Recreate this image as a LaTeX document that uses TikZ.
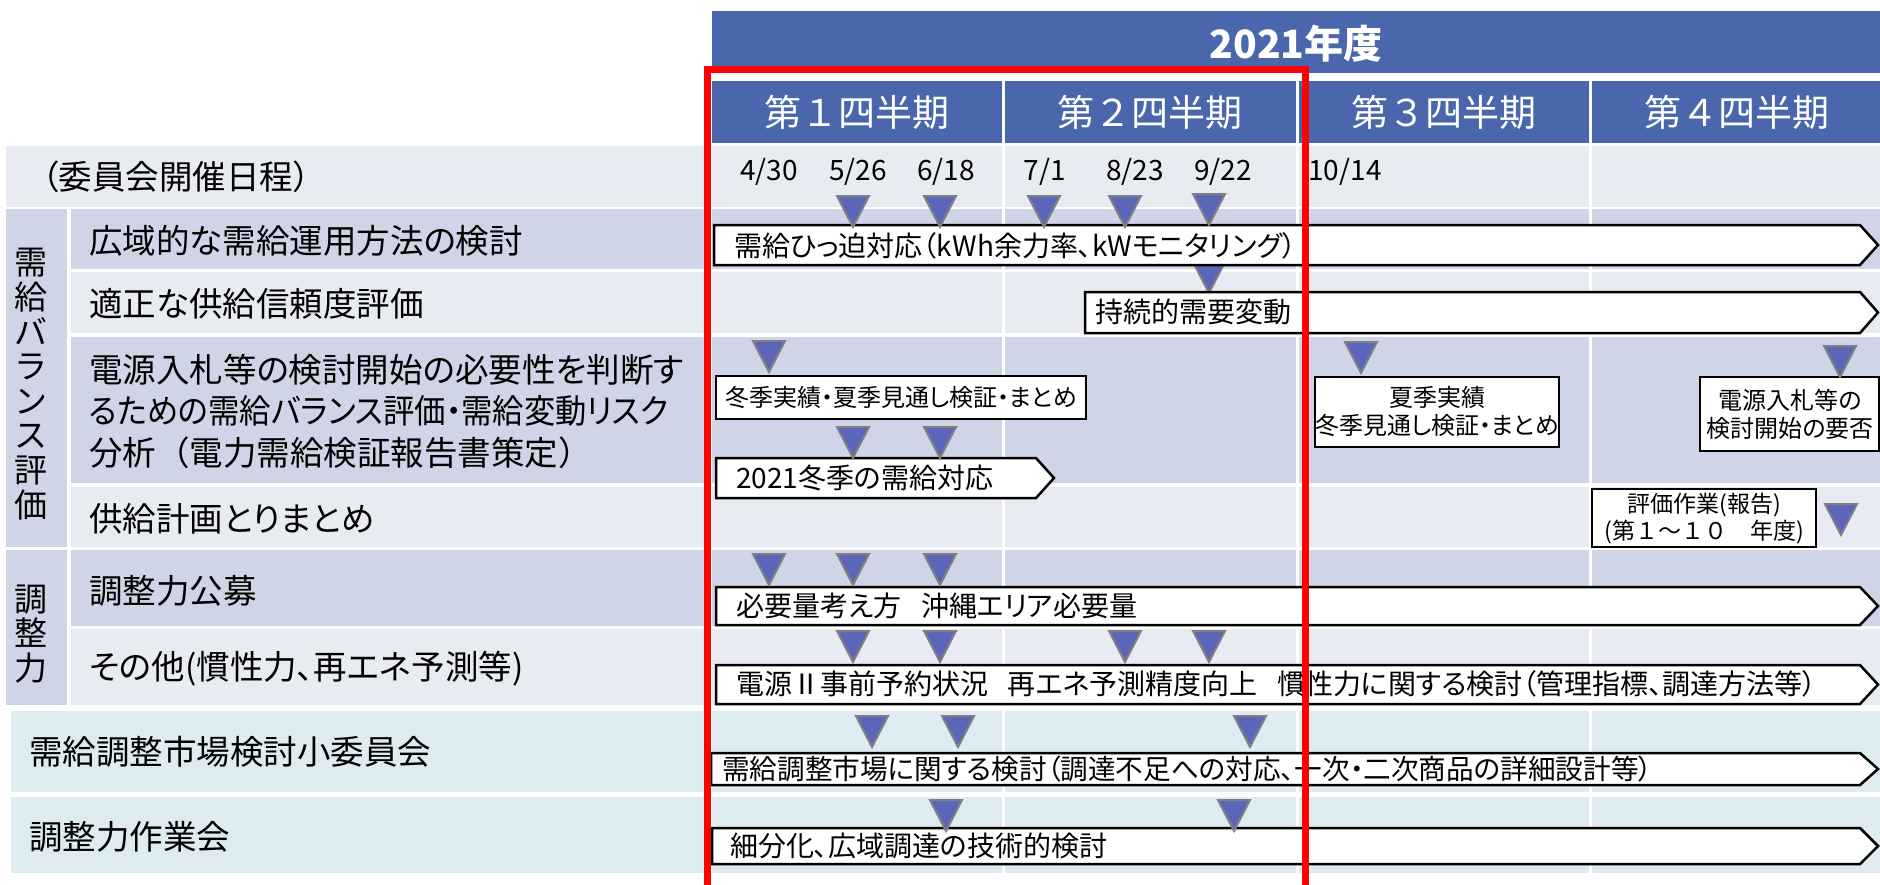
\documentclass[tikz,border=0pt]{standalone}
\usepackage{fontspec}
\usepackage{graphicx}
\setmainfont{Noto Sans CJK JP}[RawFeature=+palt]
\newfontfamily\nopaltfont{Noto Sans CJK JP}
\definecolor{hdr}{HTML}{4A67AD}
\definecolor{rowd}{HTML}{CFD5E6}
\definecolor{rowl}{HTML}{E9EBF3}
\definecolor{rowt}{HTML}{DEEBF0}
\definecolor{trif}{HTML}{5B65BA}
\definecolor{trio}{HTML}{808080}
\definecolor{frame}{HTML}{FF0000}
\newcommand\rowcells[4]{%
  \fill[#3] (#4,#1) rectangle (710,#2);
  \fill[#3] (712,#1) rectangle (1002,#2);
  \fill[#3] (1005,#1) rectangle (1296,#2);
  \fill[#3] (1299,#1) rectangle (1589,#2);
  \fill[#3] (1592,#1) rectangle (1880,#2);}
\newcommand\tri[2]{%
  \draw[trio, fill=trif, line width=2pt, line join=miter] (#1-16,#2) -- (#1+16,#2) -- (#1,#2+31) -- cycle;}
\newcommand\abox[5]{% x1, y1, y2, shoulder, tip
  \draw[boxline] (#1,#2) -- (#4,#2) -- (#5,{(#2+#3)/2}) -- (#4,#3) -- (#1,#3) -- cycle;}
\newcommand\gap{\hspace{0.7em}}
\begin{document}
\begin{tikzpicture}[x=1pt,y=-1pt,
  boxline/.style={draw=black, fill=white, line width=2.5pt, line join=miter},
  lbl/.style={anchor=west, inner sep=0pt, font=\fontsize{33.5}{41.5}\selectfont, align=left},
  vlbl/.style={inner sep=0pt, font=\fontsize{33}{34.6}\selectfont, align=center},
  qhead/.style={inner sep=0pt, text=white, font=\nopaltfont\fontsize{37}{40}\selectfont},
  datel/.style={inner sep=0pt, font=\fontsize{28}{30}\selectfont},
  btxt/.style={anchor=west, inner sep=0pt, font=\fontsize{28}{32}\selectfont},
  stxt/.style={inner sep=0pt, font=\fontsize{24}{28}\selectfont, align=center}]
\useasboundingbox (0,0) rectangle (1880,884);
\fill[white] (0,0) rectangle (1880,884);
% rows
\rowcells{146}{207}{rowl}{6}
\rowcells{209}{269}{rowd}{71}
\rowcells{272}{333}{rowl}{71}
\rowcells{337}{483}{rowd}{71}
\rowcells{487}{547}{rowl}{71}
\rowcells{550}{626}{rowd}{71}
\rowcells{629}{705}{rowl}{71}
\rowcells{711}{792}{rowt}{11}
\rowcells{797}{873}{rowt}{11}
\fill[rowd] (6,209) rectangle (67,547);
\fill[rowd] (6,550) rectangle (67,705);
% headers
\fill[hdr] (712,11) rectangle (1880,73);
\node[inner sep=0pt, text=white, font=\fontsize{39}{44}\selectfont\bfseries] (year) at (1296,44) {2021年度};
\fill[hdr] (712,81) rectangle (1002,143);
\fill[hdr] (1005,81) rectangle (1296,143);
\fill[hdr] (1299,81) rectangle (1589,143);
\fill[hdr] (1592,81) rectangle (1880,143);
\node[qhead] (q1) at (857,112) {第１四半期};
\node[qhead] (q2) at (1150,112) {第２四半期};
\node[qhead] (q3) at (1444,112) {第３四半期};
\node[qhead] (q4) at (1737,112) {第４四半期};
% left labels
\node[lbl] (l0) at (42,177) {（委員会開催日程）};
\node[vlbl] (g1) at (31,384) {需\\給\\バ\\ラ\\ン\\ス\\評\\価};
\node[vlbl] (g2) at (31,634) {調\\整\\力};
\node[lbl] (l1) at (89,241) {広域的な需給運用方法の検討};
\node[lbl] (l2) at (89,304) {適正な供給信頼度評価};
\node[lbl] (l3) at (89,411) {電源入札等の検討開始の必要性を判断す\\\scalebox{0.935}[1]{るための需給バランス評価・需給変動リスク}\\{\nopaltfont 分析（電力需給検証報告書策定）}};
\node[lbl] (l4) at (89,519) {供給計画とりまとめ};
\node[lbl] (l5) at (89,591) {調整力公募};
\node[lbl] (l6) at (89,669) {その他(慣性力、再エネ予測等)};
\node[lbl] (l7) at (29,752) {需給調整市場検討小委員会};
\node[lbl] (l8) at (29,837) {調整力作業会};
% dates
\node[datel] (d1) at (769,172) {4/30};
\node[datel] (d2) at (858,172) {5/26};
\node[datel] (d3) at (946,172) {6/18};
\node[datel] (d4) at (1045,172) {7/1};
\node[datel] (d5) at (1135,172) {8/23};
\node[datel] (d6) at (1223,172) {9/22};
\node[datel] (d7) at (1345,172) {10/14};
% triangle under first bar
\tri{1209}{262}
% bars
\abox{714}{225}{265}{1860}{1878}
\node[btxt] (b1) at (734,246) {需給ひっ迫対応（kWh余力率、kWモニタリング）};
\abox{1085}{292}{333}{1860}{1878}
\node[btxt] (b2) at (1095,312) {持続的需要変動};
\draw[boxline] (716,376) rectangle (1086,419);
\node[stxt] (b3) at (901,397) {冬季実績・夏季見通し検証・まとめ};
\abox{716}{458}{498}{1036}{1054}
\node[btxt] (b4) at (736,478) {2021冬季の需給対応};
\draw[boxline] (1315,377) rectangle (1559,447);
\node[stxt] (b5) at (1437,412) {夏季実績\\冬季見通し検証・まとめ};
\draw[boxline] (1700,377) rectangle (1879,451);
\node[stxt] (b6) at (1790,414) {電源入札等の\\検討開始の要否};
\draw[boxline] (1592,489) rectangle (1816,547);
\node[stxt, font=\fontsize{23}{27}\selectfont] (b7) at (1704,519) {評価作業(報告)\\{\nopaltfont(第１～１０　年度)}};
\abox{716}{587}{625}{1860}{1878}
\node[btxt] (b8) at (736,606) {必要量考え方\gap 沖縄エリア必要量};
\abox{716}{665}{704}{1860}{1878}
\node[btxt] (b9) at (736,684) {電源Ⅱ事前予約状況\gap 再エネ予測精度向上\gap 慣性力に関する検討（管理指標、調達方法等）};
\abox{711}{753}{785}{1860}{1878}
\node[btxt, font=\fontsize{27.6}{32}\selectfont] (b10) at (722,769) {需給調整市場に関する検討（調達不足への対応、一次・二次商品の詳細設計等）};
\abox{712}{828}{864}{1860}{1878}
\node[btxt] (b11) at (730,846) {細分化、広域調達の技術的検討};
% triangles
\tri{853}{196}\tri{940}{196}\tri{1044}{196}\tri{1125}{196}\tri{1209}{194}
\tri{769}{341}\tri{853}{427}\tri{940}{427}\tri{1361}{342}\tri{1840}{346}
\tri{1841}{504}
\tri{769}{554}\tri{853}{554}\tri{940}{554}
\tri{853}{631}\tri{940}{631}\tri{1125}{631}\tri{1209}{631}
\tri{872}{716}\tri{958}{716}\tri{1250}{716}
\tri{946}{800}\tri{1234}{800}
% red frame
\draw[frame, line width=7pt] (707,69.5) rectangle (1305,888);
\end{tikzpicture}
\end{document}
